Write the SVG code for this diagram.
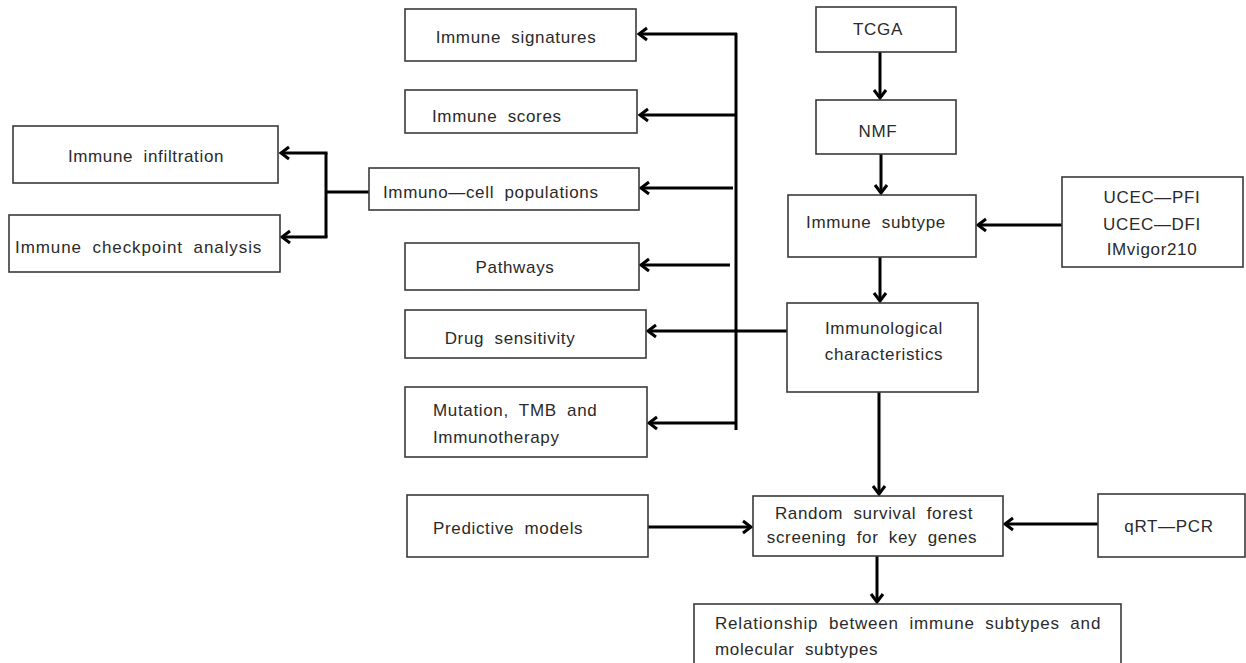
<svg xmlns="http://www.w3.org/2000/svg" width="1246" height="663" viewBox="0 0 1246 663">
<style>
.box{fill:#fff;stroke:#3a3a3a;stroke-width:1.6}
.t{font-family:"Liberation Sans",Arial,sans-serif;font-size:17px;fill:#2a2a2a;letter-spacing:0.65px;word-spacing:5px}
.c{text-anchor:middle}
.ln{fill:none;stroke:#000;stroke-width:3}
</style>
<defs>
<marker id="ah" markerUnits="userSpaceOnUse" markerWidth="14" markerHeight="16" refX="11" refY="8" orient="auto">
<path d="M3,2 L11,8 L3,14" fill="none" stroke="#000" stroke-width="3"/>
</marker>
</defs>
<rect width="1246" height="663" fill="#fff"/>
<g id="connectors">
<line class="ln" x1="880" y1="52" x2="880" y2="98" marker-end="url(#ah)"/>
<line class="ln" x1="881" y1="154" x2="881" y2="193" marker-end="url(#ah)"/>
<line class="ln" x1="1062" y1="225" x2="978" y2="225" marker-end="url(#ah)"/>
<line class="ln" x1="880" y1="257" x2="880" y2="301" marker-end="url(#ah)"/>
<line class="ln" x1="787" y1="331" x2="648" y2="331" marker-end="url(#ah)"/>
<line class="ln" x1="736" y1="33" x2="736" y2="430"/>
<line class="ln" x1="737" y1="34" x2="639" y2="34" marker-end="url(#ah)"/>
<line class="ln" x1="736" y1="115" x2="640" y2="115" marker-end="url(#ah)"/>
<line class="ln" x1="733" y1="188" x2="641" y2="188" marker-end="url(#ah)"/>
<line class="ln" x1="730" y1="265" x2="641" y2="265" marker-end="url(#ah)"/>
<line class="ln" x1="736" y1="423" x2="649" y2="423" marker-end="url(#ah)"/>
<line class="ln" x1="369" y1="192" x2="326" y2="192"/>
<polyline class="ln" points="326,153 326,237"/>
<line class="ln" x1="327.5" y1="153" x2="281" y2="153" marker-end="url(#ah)"/>
<line class="ln" x1="327.5" y1="237" x2="282" y2="237" marker-end="url(#ah)"/>
<line class="ln" x1="879" y1="392" x2="879" y2="494" marker-end="url(#ah)"/>
<line class="ln" x1="648" y1="527" x2="751" y2="527" marker-end="url(#ah)"/>
<line class="ln" x1="1098" y1="524" x2="1005" y2="524" marker-end="url(#ah)"/>
<line class="ln" x1="877" y1="556" x2="877" y2="602" marker-end="url(#ah)"/>
</g>
<g id="n-tcga"><rect class="box" x="816" y="7" width="140" height="45"/><text class="t c" x="878" y="35">TCGA</text></g>
<g id="n-nmf"><rect class="box" x="816" y="100" width="140" height="54"/><text class="t c" x="878" y="137">NMF</text></g>
<g id="n-subtype"><rect class="box" x="788" y="195" width="188" height="62"/><text class="t c" x="876" y="228">Immune subtype</text></g>
<g id="n-ucec"><rect class="box" x="1062" y="177" width="181" height="90"/>
<text class="t c" x="1152" y="203">UCEC—PFI</text>
<text class="t c" x="1152" y="230">UCEC—DFI</text>
<text class="t c" x="1152" y="255">IMvigor210</text></g>
<g id="n-immunological"><rect class="box" x="787" y="303" width="191" height="89"/>
<text class="t c" x="884" y="334">Immunological</text>
<text class="t c" x="884" y="360">characteristics</text></g>
<g id="n-signatures"><rect class="box" x="405" y="9" width="231" height="52"/><text class="t c" x="516" y="43">Immune signatures</text></g>
<g id="n-scores"><rect class="box" x="405" y="90" width="232" height="43"/><text class="t" x="432" y="122">Immune scores</text></g>
<g id="n-immunocell"><rect class="box" x="369" y="168" width="270" height="42"/><text class="t" x="383" y="198">Immuno—cell populations</text></g>
<g id="n-infiltration"><rect class="box" x="13" y="126" width="265" height="57"/><text class="t c" x="146" y="162">Immune infiltration</text></g>
<g id="n-checkpoint"><rect class="box" x="9" y="215" width="271" height="57"/><text class="t" x="15" y="253" textLength="247">Immune checkpoint analysis</text></g>
<g id="n-pathways"><rect class="box" x="405" y="243" width="234" height="47"/><text class="t c" x="515" y="273">Pathways</text></g>
<g id="n-drug"><rect class="box" x="405" y="310" width="241" height="48"/><text class="t c" x="510" y="344">Drug sensitivity</text></g>
<g id="n-mutation"><rect class="box" x="405" y="387" width="242" height="70"/>
<text class="t" x="433" y="416">Mutation, TMB and</text>
<text class="t" x="433" y="443">Immunotherapy</text></g>
<g id="n-predictive"><rect class="box" x="407" y="495" width="241" height="62"/><text class="t" x="433" y="534">Predictive models</text></g>
<g id="n-random"><rect class="box" x="753" y="496" width="250" height="60"/>
<text class="t c" x="874" y="519">Random survival forest</text>
<text class="t c" x="872" y="543">screening for key genes</text></g>
<g id="n-qrtpcr"><rect class="box" x="1098" y="494" width="147" height="63"/><text class="t c" x="1169" y="532">qRT—PCR</text></g>
<g id="n-relationship"><rect class="box" x="694" y="604" width="427" height="64"/>
<text class="t" x="715" y="629" textLength="386">Relationship between immune subtypes and</text>
<text class="t" x="715" y="655">molecular subtypes</text></g>
</svg>
